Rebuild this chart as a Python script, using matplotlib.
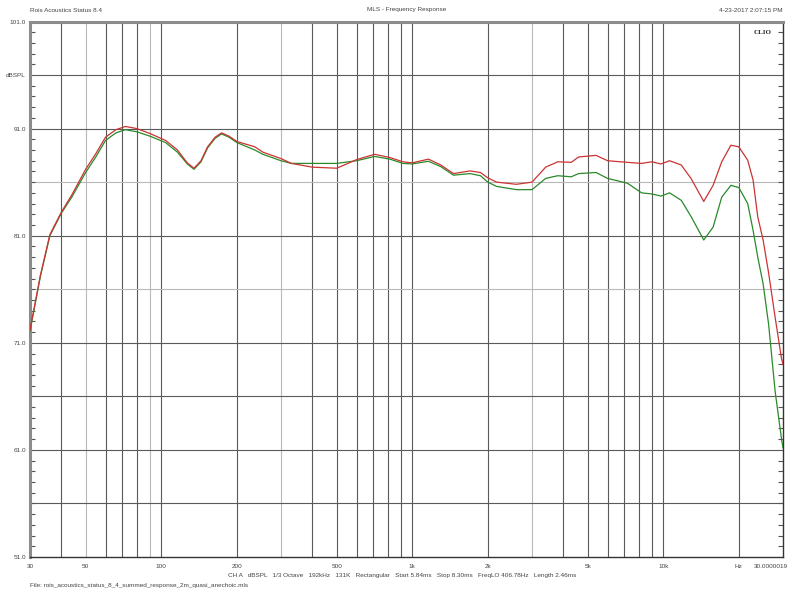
import numpy as np
import matplotlib
matplotlib.use("Agg")
import matplotlib.pyplot as plt

plt.rcParams["font.family"] = ["Liberation Sans", "DejaVu Sans"]

# Frequency response (Hz, dBSPL)
freq = [30, 33, 36, 40, 44, 50, 55, 60, 66, 72, 80, 90, 104, 116, 127, 135,
        144, 153, 164, 174, 186, 200, 236, 254, 300, 330, 400, 500, 600, 708,
        814, 918, 1000, 1160, 1300, 1460, 1700, 1870, 2000, 2170, 2600, 3000,
        3400, 3800, 4300, 4600, 5400, 6000, 7200, 8200, 9000, 9800, 10600,
        11800, 12900, 14500, 15800, 17100, 18600, 20000, 21700, 22800, 23800,
        25000, 26300, 27900, 29600, 30000]
red = [72.2, 77.3, 81.1, 83.2, 84.8, 87.2, 88.7, 90.2, 90.9, 91.2, 91.0, 90.55,
       89.9, 89.0, 87.8, 87.3, 88.0, 89.3, 90.2, 90.6, 90.3, 89.8, 89.3, 88.8,
       88.2, 87.75, 87.4, 87.3, 88.1, 88.6, 88.3, 87.9, 87.8, 88.15, 87.6,
       86.8, 87.05, 86.9, 86.4, 86.0, 85.8, 86.0, 87.4, 87.9, 87.85, 88.35,
       88.5, 88.0, 87.85, 87.75, 87.9, 87.7, 88.0, 87.6, 86.35, 84.2, 85.7,
       87.9, 89.45, 89.3, 88.05, 86.2, 82.75, 80.6, 77.5, 73.4, 69.5, 69.0]
green = [72.1, 77.2, 81.0, 83.1, 84.6, 86.9, 88.4, 89.9, 90.6, 90.9, 90.7,
         90.3, 89.7, 88.8, 87.7, 87.2, 87.9, 89.2, 90.1, 90.5, 90.2, 89.7, 89.0,
         88.6, 88.0, 87.75, 87.75, 87.75, 88.0, 88.4, 88.15, 87.75, 87.7, 87.95,
         87.45, 86.65, 86.8, 86.6, 86.0, 85.6, 85.3, 85.3, 86.35, 86.6, 86.5,
         86.8, 86.9, 86.35, 85.9, 85.0, 84.9, 84.7, 85.0, 84.3, 82.8, 80.6,
         81.8, 84.6, 85.7, 85.5, 84.0, 81.5, 79.0, 76.5, 72.7, 66.5, 62.0, 61.2]

x_grid = [40, 50, 60, 70, 80, 90, 100, 200, 300, 400, 500, 600, 700, 800, 900,
          1000, 2000, 3000, 4000, 5000, 6000, 7000, 8000, 9000, 10000, 20000]
x_light = [50, 90, 300, 3000]
x_labels = {30: "30", 50: "50", 100: "100", 200: "200", 500: "500",
            1000: "1k", 2000: "2k", 5000: "5k", 10000: "10k", 20000: "Hz"}
end_label = "30.0000019"
y_grid = [56, 61, 66, 71, 76, 81, 86, 91, 96]
y_light = [76, 86]
y_labels = {101: "101.0", 96: "dBSPL", 91: "91.0", 81: "81.0", 71: "71.0",
            61: "61.0", 51: "51.0"}

fig = plt.figure(figsize=(7.98, 5.99), dpi=100)
ax = fig.add_axes([30 / 798, 42 / 599, 753 / 798, 535.5 / 599])
ax.set_xscale("log")
ax.set_xlim(30, 30000)
ax.set_ylim(51, 101)

for f in x_grid:
    ax.axvline(f, color="#b8b8b8" if f in x_light else "#5a5a5a", lw=0.8, zorder=1)
for v in y_grid:
    ax.axhline(v, color="#b8b8b8" if v in y_light else "#5a5a5a", lw=0.8, zorder=1)

ax.plot(freq, green, color="#2a8a2a", lw=0.9, zorder=3)
ax.plot(freq, red, color="#cc3333", lw=0.9, zorder=3)

ax.set_xticks(list(x_labels.keys()))
ax.set_xticklabels(list(x_labels.values()))
ax.xaxis.set_minor_locator(matplotlib.ticker.NullLocator())
ax.set_yticks(list(y_labels.keys()))
ax.set_yticklabels(list(y_labels.values()))
ax.set_yticks(np.arange(51, 102, 1), minor=True)
ax.tick_params(axis="x", which="major", length=0, labelsize=4.6,
               labelcolor="#444444", pad=5)
ax.tick_params(axis="y", which="major", length=0, labelsize=4.6,
               labelcolor="#444444", pad=3)
ax.tick_params(axis="y", which="minor", direction="in", length=3.5,
               width=0.8, color="#555555", left=True, right=True)

for side in ["left", "top"]:
    ax.spines[side].set_color("#8c8c8c")
    ax.spines[side].set_linewidth(2.2)
for side in ["right", "bottom"]:
    ax.spines[side].set_color("#333333")
    ax.spines[side].set_linewidth(1.0)

ax.text(0.985, 0.985, "CLIO", transform=ax.transAxes, ha="right", va="top",
        family="Liberation Serif", fontweight="bold", fontsize=5, color="#222222")

tc = "#444444"
fig.text(788 / 798, 1 - 566.5 / 599, end_label, fontsize=4.6, color=tc,
         va="center", ha="right")
fig.text(30 / 798, 1 - 10 / 599, "Rois Acoustics Status 8.4", fontsize=4.6,
         color=tc, va="center", ha="left")
fig.text(407 / 798, 1 - 10 / 599, "MLS - Frequency Response", fontsize=4.6,
         color=tc, va="center", ha="center")
fig.text(783 / 798, 1 - 10 / 599, "4-23-2017 2:07:15 PM", fontsize=4.6,
         color=tc, va="center", ha="right")
fig.text(228 / 798, 1 - 576 / 599,
         "CH A   dBSPL   1/3 Octave   192kHz   131K   Rectangular   Start 5.84ms"
         "   Stop 8.30ms   FreqLO 406.78Hz   Length 2.46ms",
         fontsize=4.6, color=tc, va="center", ha="left")
fig.text(30 / 798, 1 - 586 / 599,
         "File: rois_acoustics_status_8_4_summed_response_2m_quasi_anechoic.mls",
         fontsize=4.6, color=tc, va="center", ha="left")

fig.savefig("out.png", dpi=100)
